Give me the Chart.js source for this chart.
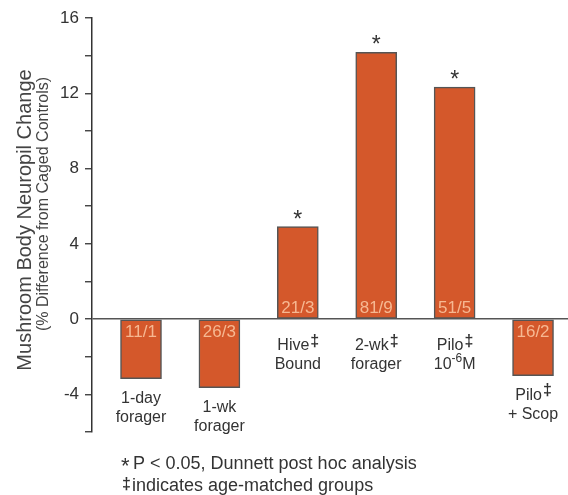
<!DOCTYPE html>
<html>
<head>
<meta charset="utf-8">
<script src="https://cdn.jsdelivr.net/npm/chart.js@4/dist/chart.umd.min.js"></script>
<style>
  html, body { margin: 0; padding: 0; background: #fff; }
  #wrap { width: 568px; height: 495px; position: relative; }
</style>
</head>
<body>
<div id="wrap"><canvas id="chart" width="568" height="495"></canvas></div>
<script>
// groups, left to right
const groups = ["1-day forager", "1-wk forager", "Hive Bound", "2-wk forager", "Pilo 10-6M", "Pilo + Scop"];
// label lines under each bar (‡ and ^..^ are drawn as superscript)
const groupLines = [
  ["1-day", "forager"],
  ["1-wk", "forager"],
  ["Hive‡", "Bound"],
  ["2-wk‡", "forager"],
  ["Pilo‡", "10^-6^M"],
  ["Pilo‡", "+ Scop"]
];
// % change vs caged controls
const change = [-3.17, -3.65, 4.92, 14.18, 12.33, -3.0];
// n written inside the bars
const counts = ["11/1", "26/3", "21/3", "81/9", "51/5", "16/2"];
// significant groups (asterisk)
const signif = [false, false, true, true, true, false];
const yTicks = [16, 12, 8, 4, 0, -4];

const FONT = "'Liberation Sans', Arial, Helvetica, sans-serif";
const INK = "#333";

function drawRich(ctx, text, cx, cy, size) {
  // split into normal / superscript parts
  const parts = [];
  let sup = false, buf = "";
  for (const ch of text) {
    if (ch === "^") { if (buf) parts.push({ t: buf, sup }); buf = ""; sup = !sup; continue; }
    if (ch === "‡") { if (buf) parts.push({ t: buf, sup }); buf = ""; parts.push({ t: "‡", sup: true, dag: true }); continue; }
    buf += ch;
  }
  if (buf) parts.push({ t: buf, sup });
  const sizeOf = p => (p.dag ? size : p.sup ? Math.round(size * 0.75) : size);
  let total = 0;
  parts.forEach(p => {
    ctx.font = sizeOf(p) + "px " + FONT;
    p.w = ctx.measureText(p.t).width;
    total += p.w;
  });
  let x = cx - total / 2;
  ctx.textAlign = "left";
  ctx.textBaseline = "middle";
  parts.forEach(p => {
    ctx.font = (p.dag ? "bold " : "") + sizeOf(p) + "px " + FONT;
    const dy = p.dag ? -size * 0.3 : p.sup ? -size * 0.4 : 0;
    ctx.fillText(p.t, x + (p.dag ? 1 : 0), cy + dy);
    x += p.w;
  });
}

const annotations = {
  id: "annotations",
  afterDatasetsDraw(chart) {
    const ctx = chart.ctx;
    const xs = chart.scales.x, ys = chart.scales.y;
    const zero = ys.getPixelForValue(0);
    ctx.save();
    change.forEach((v, i) => {
      const cx = xs.getPixelForValue(i);
      const end = ys.getPixelForValue(v);
      // counts inside the bar
      ctx.fillStyle = "#f6b892";
      ctx.font = "17px " + FONT;
      ctx.textAlign = "center";
      ctx.textBaseline = "middle";
      ctx.fillText(counts[i], cx, v < 0 ? zero + 13 : zero - 11);
      // asterisk
      if (signif[i]) {
        ctx.fillStyle = INK;
        ctx.font = "23px " + FONT;
        ctx.textBaseline = "alphabetic";
        ctx.fillText("*", cx, end);
      }
      // group label
      ctx.fillStyle = INK;
      const top = v < 0 ? end + 20 : zero + 27;
      groupLines[i].forEach((line, k) => drawRich(ctx, line, cx, top + k * 19, 16));
    });
    // y title
    ctx.fillStyle = "#444";
    ctx.textAlign = "center";
    ctx.textBaseline = "middle";
    ctx.save();
    ctx.translate(25, 220);
    ctx.rotate(-Math.PI / 2);
    ctx.font = "20px " + FONT;
    ctx.fillText("Mushroom Body Neuropil Change", 0, 0);
    ctx.restore();
    ctx.translate(44, 204);
    ctx.rotate(-Math.PI / 2);
    ctx.font = "16px " + FONT;
    ctx.fillText("(% Difference from Caged Controls)", 0, 0);
    ctx.restore();
    // footnotes
    ctx.save();
    ctx.fillStyle = INK;
    ctx.textAlign = "left";
    ctx.textBaseline = "middle";
    ctx.font = "22px " + FONT;
    ctx.fillText("*", 121, 467);
    ctx.font = "18px " + FONT;
    ctx.fillText("P < 0.05, Dunnett post hoc analysis", 133, 464);
    ctx.font = "bold 16px " + FONT;
    ctx.fillText("‡", 122, 485);
    ctx.font = "18px " + FONT;
    ctx.fillText("indicates age-matched groups", 132, 486);
    ctx.restore();
  }
};

new Chart(document.getElementById("chart"), {
  type: "bar",
  data: {
    datasets: [{
      label: "Neuropil change",
      data: change.map((v, i) => ({ x: i, y: v })),
      backgroundColor: "#d4582b",
      borderColor: "#555",
      borderWidth: 1.5,
      borderSkipped: false,
      barThickness: 41
    }]
  },
  options: {
    responsive: false,
    animation: false,
    layout: { padding: { top: 18, right: 0, bottom: 63, left: 0 } },
    plugins: { legend: { display: false }, tooltip: { enabled: false } },
    scales: {
      x: {
        type: "linear",
        offset: false,
        min: -0.625,
        max: 5.446,
        display: false
      },
      y: {
        min: -6,
        max: 16,
        afterFit(scale) { scale.width = 92; },
        afterBuildTicks(scale) {
          scale.ticks = [];
          for (let v = -6; v <= 16; v += 2) scale.ticks.push({ value: v });
        },
        ticks: {
          color: INK,
          font: { family: FONT, size: 17 },
          padding: 6,
          callback: v => (yTicks.includes(v) ? String(v) : "")
        },
        grid: {
          drawOnChartArea: true,
          color: c => (c.tick && c.tick.value === 0 ? "#555" : "rgba(0,0,0,0)"),
          lineWidth: 1.5,
          tickColor: INK,
          tickLength: 7,
          tickWidth: 1.3
        },
        border: { color: INK, width: 1.5 }
      }
    }
  },
  plugins: [annotations]
});
</script>
</body>
</html>
